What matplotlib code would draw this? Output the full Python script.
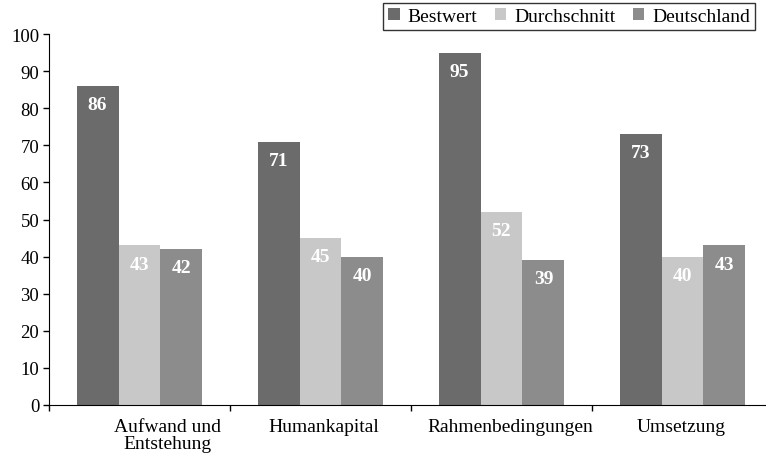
import numpy as np
import matplotlib.pyplot as plt

plt.rcParams['font.family'] = ['Liberation Serif', 'DejaVu Serif']

# Data
categories = ['Aufwand und\nEntstehung', 'Humankapital', 'Rahmenbedingungen', 'Umsetzung']
label_shift = [0.157, 0.02, 0.047, -0.01]
series = ['Bestwert', 'Durchschnitt', 'Deutschland']
bestwert = [86, 71, 95, 73]
durchschnitt = [43, 45, 52, 40]
deutschland = [42, 40, 39, 43]
colors = ['#6b6b6b', '#c8c8c8', '#8c8c8c']

W, H = 766, 460
fig = plt.figure(figsize=(W / 100, H / 100), dpi=100)
ax = fig.add_axes([49 / W, 1 - 406 / H, (W - 49) / W, 371 / H])

x = np.arange(len(categories))
width = 0.232
for i, (name, vals) in enumerate(zip(series, [bestwert, durchschnitt, deutschland])):
    pos = x + (i - 1) * width
    ax.bar(pos, vals, width, color=colors[i], label=name, zorder=2)
    for p, v in zip(pos, vals):
        ax.text(p, v - 5, str(v), ha='center', va='center', color='white',
                fontsize=14, fontweight='bold')

ax.set_ylim(0, 100)
ax.set_yticks(range(0, 101, 10))
ax.set_xlim(-0.5, 3.5 - 7 / 181)
ax.set_xticks([-0.5, 0.5, 1.5, 2.5])
ax.set_xticklabels([])
ax.tick_params(axis='both', direction='out', length=4, width=1, labelsize=13.5)
ax.tick_params(axis='y', pad=3)
for s in ['top', 'right']:
    ax.spines[s].set_visible(False)

for xi, (c, sh) in enumerate(zip(categories, label_shift)):
    ax.text(xi + sh, -3.6, c, ha='center', va='top', fontsize=14,
            linespacing=1.0)

leg = fig.legend(loc='upper right', bbox_to_anchor=(755 / W, 1 - 4 / H), ncol=3,
                 fontsize=14, frameon=True, fancybox=False, edgecolor='black',
                 handlelength=0.6, handleheight=0.6, handletextpad=0.4,
                 columnspacing=0.9, borderpad=0.25, borderaxespad=0)
leg.get_frame().set_linewidth(1.0)

fig.savefig('out.png', dpi=100)
